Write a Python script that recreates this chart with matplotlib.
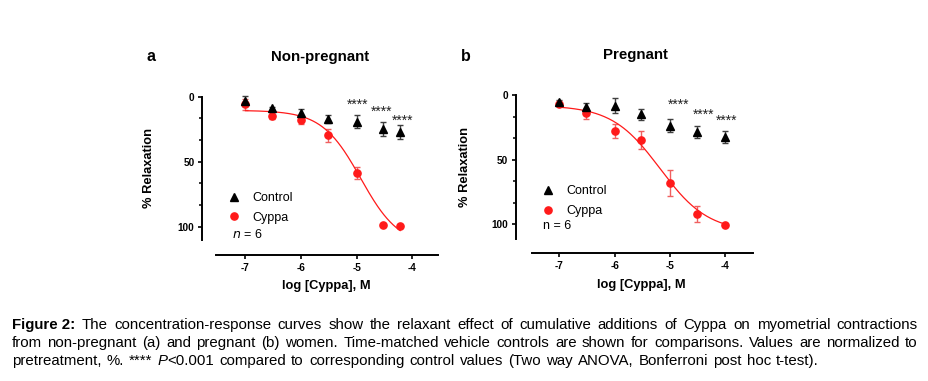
import numpy as np
import matplotlib
matplotlib.use('Agg')  # no display
import matplotlib.pyplot as plt
from matplotlib.lines import Line2D
from matplotlib.ticker import FixedLocator

plt.rcParams['font.family'] = ['Liberation Sans', 'DejaVu Sans']
plt.rcParams['axes.unicode_minus'] = False

W, H = 929, 381

# --- panel a: non-pregnant ---
log_conc_a = [-7, -6.52, -6, -5.52, -5, -4.52, -4.22]
control_a = [3.1, 9.0, 12.8, 17.0, 19.2, 25.1, 27.4]
control_a_err = [4.0, 1.0, 3.2, 3.0, 5.0, 5.3, 5.4]
cyppa_a = [5.9, 15.1, 17.9, 29.7, 58.5, 99.0, 99.7]
cyppa_a_err = [4.0, 2.0, 3.0, 5.0, 4.5, 0.5, 0.5]
fit_a = dict(bottom=10.5, top=115.0, logec50=-4.93, hill=1.25)
stars_a_x = [-4.99, -4.55, -4.17]
stars_a_y = [9.0, 14.6, 21.8]

# --- panel b: pregnant ---
log_conc_b = [-7, -6.52, -6, -5.52, -5, -4.52, -4]
control_b = [5.2, 9.0, 8.2, 15.0, 23.7, 28.4, 32.5]
control_b_err = [1.0, 3.0, 6.0, 4.3, 5.3, 4.5, 5.0]
cyppa_b = [7.0, 14.2, 28.1, 34.8, 67.8, 92.0, 100.3]
cyppa_b_err = [1.0, 4.5, 5.4, 7.0, 10.0, 6.4, 0.8]
fit_b = dict(bottom=8.0, top=106.0, logec50=-5.18, hill=1.0)
stars_b_x = [-4.84, -4.39, -3.97]
stars_b_y = [10.9, 18.1, 23.3]

x_ticks = [-7, -6, -5, -4]
y_ticks = [0, 50, 100]
y_minor_ticks = [16.67, 33.33, 66.67, 83.33]

RED = '#FF1A1A'
RED_ERR = '#F06060'
BLACK = '#000000'
GREY_ERR = '#404040'

fig = plt.figure(figsize=(W / 100, H / 100), dpi=100)
fig.patch.set_facecolor('white')


def px(x, y):
    """pixel position (y from top) -> figure fraction"""
    return x / W, 1 - y / H


def four_pl(x, p):
    return p['bottom'] + (p['top'] - p['bottom']) / (1 + 10 ** ((p['logec50'] - x) * p['hill']))


def draw_panel(rect, xlim, ylim, xbounds, ybounds, xs, ctrl, ctrl_err, cyp, cyp_err,
               fit, stars_x, stars_y, legend_px, n_pos, n_italic):
    ax = fig.add_axes(rect)
    ax.set_xlim(*xlim)
    ax.set_ylim(*ylim)

    ax.errorbar(xs, ctrl, yerr=ctrl_err, fmt='none', ecolor=GREY_ERR,
                elinewidth=1.0, capsize=2, capthick=1.0, clip_on=False, zorder=2)
    ax.errorbar(xs, cyp, yerr=cyp_err, fmt='none', ecolor=RED_ERR,
                elinewidth=1.0, capsize=2, capthick=1.0, clip_on=False, zorder=2)

    xfit = np.linspace(xs[0], xs[-1], 200)
    ax.plot(xfit, four_pl(xfit, fit), color=RED, lw=0.9, zorder=3)

    ax.plot(xs, cyp, 'o', color=RED, ms=5.2, mec=RED, clip_on=False, zorder=4)
    ax.plot(xs, ctrl, '^', color=BLACK, ms=5.2, clip_on=False, zorder=5)

    for sx, sy in zip(stars_x, stars_y):
        ax.text(sx, sy, '****', ha='center', va='baseline', fontsize=10, color='#222222')

    for s in ['top', 'right']:
        ax.spines[s].set_visible(False)
    for s in ['left', 'bottom']:
        ax.spines[s].set_linewidth(1.4)
    ax.spines['left'].set_bounds(*ybounds)
    ax.spines['bottom'].set_bounds(*xbounds)

    ax.set_xticks(x_ticks)
    ax.set_yticks(y_ticks)
    ax.yaxis.set_minor_locator(FixedLocator(y_minor_ticks))
    ax.tick_params(axis='both', which='major', direction='out', length=3.2, width=1.2, labelsize=7.2)
    ax.tick_params(axis='y', which='minor', direction='out', length=2.0, width=1.1)
    ax.tick_params(axis='x', pad=2.7)
    ax.tick_params(axis='y', pad=2.2)
    for lbl in ax.get_xticklabels() + ax.get_yticklabels():
        lbl.set_fontweight('bold')

    # legend
    fs = 9
    fs_px = fs * 100 / 72
    handles = [Line2D([], [], ls='none', marker='^', color=BLACK, ms=5.2),
               Line2D([], [], ls='none', marker='o', color=RED, ms=5.2)]
    mx, my = legend_px
    anchor = px(mx - 0.5 * fs_px, my - 4.5)
    ax.legend(handles, ['Control', 'Cyppa'], loc='upper left', bbox_to_anchor=anchor,
              bbox_transform=fig.transFigure, frameon=False, fontsize=fs,
              handlelength=1.0, handletextpad=1.0, labelspacing=0.6,
              borderpad=0, borderaxespad=0)

    if n_italic:
        ax.text(n_pos[0], n_pos[1], r'$n$ = 6', fontsize=9, va='center', ha='left')
    else:
        ax.text(n_pos[0], n_pos[1], 'n = 6', fontsize=9, va='center', ha='left')
    return ax


ax_a = draw_panel([202.0 / W, (H - 255) / H, 236.0 / W, (255 - 90.2) / H],
                  (-7.78, -3.54), (121.8, -5), (-7.52, -3.54), (0, 110),
                  log_conc_a, control_a, control_a_err, cyppa_a, cyppa_a_err,
                  fit_a, stars_a_x, stars_a_y, (234, 196.7), (-7.25, 106.4), True)

ax_b = draw_panel([515.7 / W, (H - 253.3) / H, 237.3 / W, (253.3 - 88.5) / H],
                  (-7.79, -3.5), (122.4, -5), (-7.5, -3.5), (0, 111),
                  log_conc_b, control_b, control_b_err, cyppa_b, cyppa_b_err,
                  fit_b, stars_b_x, stars_b_y, (547.7, 190.0), (-7.30, 101.0), False)

# panel letters, titles, axis labels
fig.text(*px(151.2, 60.7), 'a', fontsize=11.5, fontweight='bold', ha='center', va='baseline')
fig.text(*px(465.5, 60.7), 'b', fontsize=11.5, fontweight='bold', ha='center', va='baseline')
fig.text(*px(320, 60.7), 'Non-pregnant', fontsize=10.8, fontweight='bold', ha='center', va='baseline')
fig.text(*px(635, 59.3), 'Pregnant', fontsize=10.8, fontweight='bold', ha='center', va='baseline')
fig.text(*px(326.7, 289.3), 'log [Cyppa], M', fontsize=9.3, fontweight='bold', ha='center', va='baseline')
fig.text(*px(641.7, 288.3), 'log [Cyppa], M', fontsize=9.3, fontweight='bold', ha='center', va='baseline')
fig.text(*px(149.5, 168.3), '% Relaxation', fontsize=9.3, fontweight='bold', rotation=90,
         ha='center', va='center')
fig.text(*px(465.5, 167.0), '% Relaxation', fontsize=9.3, fontweight='bold', rotation=90,
         ha='center', va='center')

# caption: each line spread to the width it has in the source
N, B, I = 'normal', 'bold', 'italic'
caption_lines = [
    [('Figure 2:', B, False)] +
    [(w, N, False) for w in ('The concentration-response curves show the relaxant effect of '
                             'cumulative additions of Cyppa on myometrial contractions').split()],
    [(w, N, False) for w in ('from non-pregnant (a) and pregnant (b) women. Time-matched vehicle '
                             'controls are shown for comparisons. Values are normalized to').split()],
    [('pretreatment,', N, False), ('%.', N, False), ('****', N, False), ('P', I, False),
     ('<0.001', N, True)] +
    [(w, N, False) for w in ('compared to corresponding control values (Two way ANOVA, '
                             'Bonferroni post hoc t-test).').split()],
]
caption_base = [328.7, 346.7, 365.0]
caption_end = [917.7, 917.7, 819.0]
cap_x0 = 11.7
cap_fs = 10.8

renderer = fig.canvas.get_renderer()


def text_width(s, kind):
    t = fig.text(0, 0, s, fontsize=cap_fs, fontweight='bold' if kind == B else 'normal',
                 fontstyle='italic' if kind == I else 'normal')
    w = t.get_window_extent(renderer).width
    t.remove()
    return w


for tokens, yb, x_end in zip(caption_lines, caption_base, caption_end):
    # group glued tokens into words
    words = []
    for txt, kind, glue in tokens:
        if glue and words:
            words[-1].append((txt, kind))
        else:
            words.append([(txt, kind)])
    widths = [sum(text_width(t, kind) for t, kind in wd) for wd in words]
    gap = (x_end - cap_x0 - sum(widths)) / (len(words) - 1)
    x = cap_x0
    for wd, ww in zip(words, widths):
        xx = x
        for t, kind in wd:
            fig.text(*px(xx, yb), t, fontsize=cap_fs, ha='left', va='baseline',
                     fontweight='bold' if kind == B else 'normal',
                     fontstyle='italic' if kind == I else 'normal')
            xx += text_width(t, kind)
        x += ww + gap

fig.savefig('out.png', dpi=100, facecolor='white')
